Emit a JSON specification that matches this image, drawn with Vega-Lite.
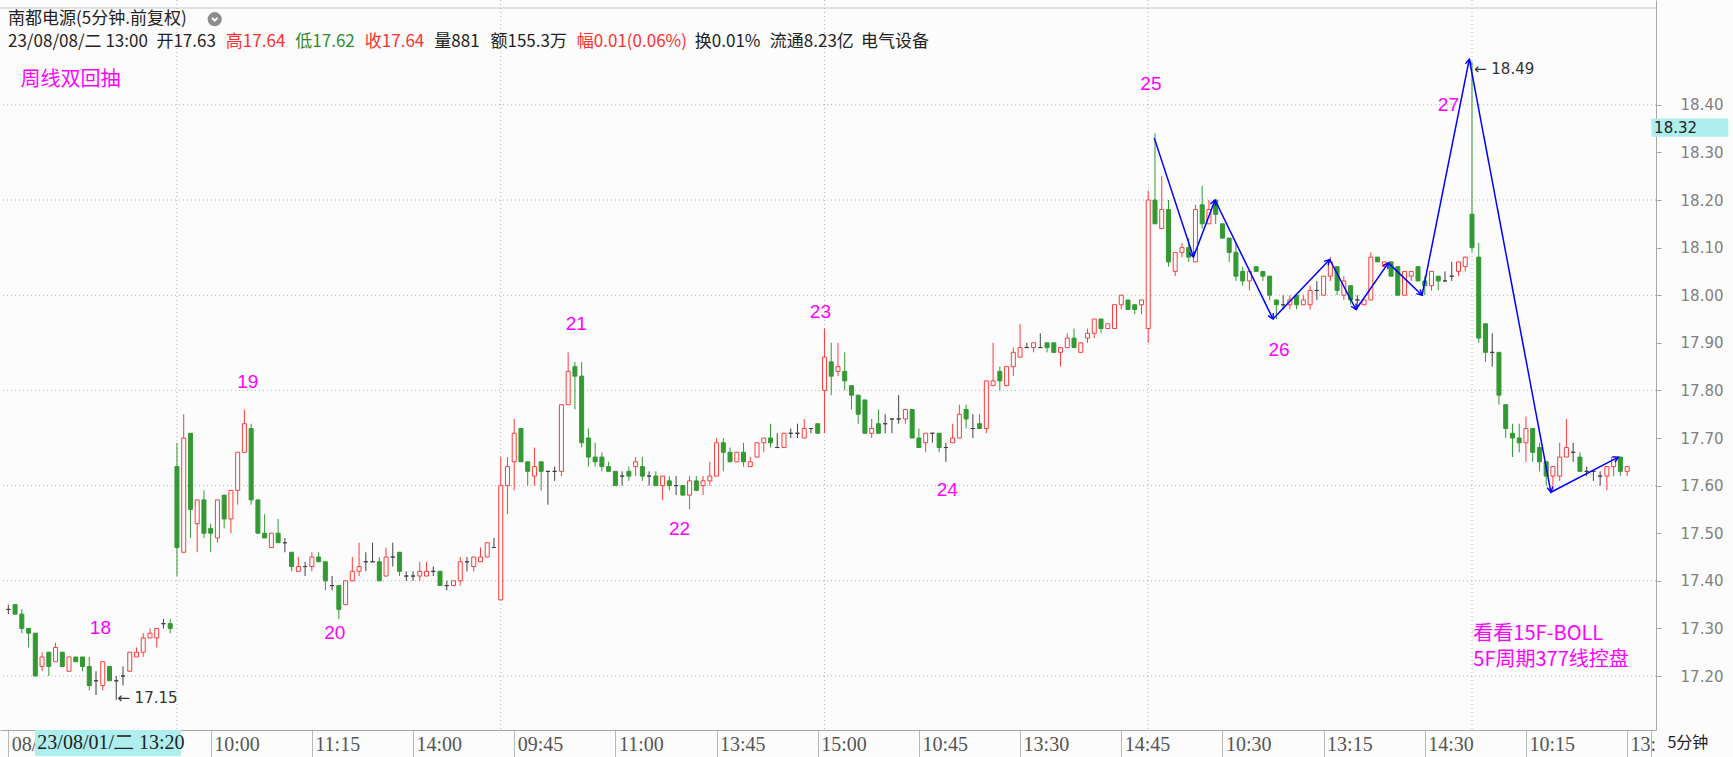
{
"$schema": "https://vega.github.io/schema/vega-lite/v6.json",
"width": 1656, "height": 730,
"autosize": "none",
"padding": {"left": 0, "top": 0, "right": 77, "bottom": 27},
"background": "#fcfcfc",
"config": {"view": {"stroke": null}},
"resolve": {"axis": {"x": "independent", "y": "independent"}},
"datasets": {
"k": [
{"i":0,"o":17.34,"h":17.35,"l":17.33,"c":17.34},
{"i":1,"o":17.35,"h":17.35,"l":17.33,"c":17.33},
{"i":2,"o":17.33,"h":17.34,"l":17.29,"c":17.30},
{"i":3,"o":17.30,"h":17.30,"l":17.26,"c":17.29},
{"i":4,"o":17.29,"h":17.29,"l":17.20,"c":17.20},
{"i":5,"o":17.22,"h":17.25,"l":17.21,"c":17.24},
{"i":6,"o":17.25,"h":17.25,"l":17.20,"c":17.22},
{"i":7,"o":17.23,"h":17.27,"l":17.23,"c":17.26},
{"i":8,"o":17.25,"h":17.25,"l":17.22,"c":17.22},
{"i":9,"o":17.21,"h":17.24,"l":17.21,"c":17.24},
{"i":10,"o":17.24,"h":17.24,"l":17.23,"c":17.23},
{"i":11,"o":17.24,"h":17.24,"l":17.21,"c":17.22},
{"i":12,"o":17.22,"h":17.24,"l":17.17,"c":17.18},
{"i":13,"o":17.19,"h":17.21,"l":17.16,"c":17.19},
{"i":14,"o":17.18,"h":17.23,"l":17.17,"c":17.23},
{"i":15,"o":17.22,"h":17.22,"l":17.19,"c":17.19},
{"i":16,"o":17.19,"h":17.20,"l":17.15,"c":17.19},
{"i":17,"o":17.20,"h":17.22,"l":17.18,"c":17.20},
{"i":18,"o":17.21,"h":17.25,"l":17.21,"c":17.25},
{"i":19,"o":17.24,"h":17.26,"l":17.24,"c":17.25},
{"i":20,"o":17.25,"h":17.29,"l":17.24,"c":17.28},
{"i":21,"o":17.28,"h":17.30,"l":17.28,"c":17.29},
{"i":22,"o":17.28,"h":17.30,"l":17.26,"c":17.30},
{"i":23,"o":17.31,"h":17.32,"l":17.30,"c":17.31},
{"i":24,"o":17.31,"h":17.32,"l":17.29,"c":17.30},
{"i":25,"o":17.64,"h":17.69,"l":17.41,"c":17.47},
{"i":26,"o":17.46,"h":17.75,"l":17.46,"c":17.70},
{"i":27,"o":17.71,"h":17.71,"l":17.49,"c":17.55},
{"i":28,"o":17.52,"h":17.57,"l":17.46,"c":17.57},
{"i":29,"o":17.57,"h":17.59,"l":17.49,"c":17.50},
{"i":30,"o":17.51,"h":17.52,"l":17.46,"c":17.50},
{"i":31,"o":17.49,"h":17.57,"l":17.48,"c":17.57},
{"i":32,"o":17.58,"h":17.58,"l":17.51,"c":17.53},
{"i":33,"o":17.53,"h":17.59,"l":17.50,"c":17.59},
{"i":34,"o":17.59,"h":17.67,"l":17.56,"c":17.67},
{"i":35,"o":17.67,"h":17.76,"l":17.67,"c":17.73},
{"i":36,"o":17.72,"h":17.73,"l":17.56,"c":17.57},
{"i":37,"o":17.57,"h":17.57,"l":17.50,"c":17.50},
{"i":38,"o":17.50,"h":17.54,"l":17.49,"c":17.49},
{"i":39,"o":17.47,"h":17.50,"l":17.47,"c":17.50},
{"i":40,"o":17.50,"h":17.53,"l":17.48,"c":17.48},
{"i":41,"o":17.48,"h":17.49,"l":17.46,"c":17.48},
{"i":42,"o":17.46,"h":17.46,"l":17.42,"c":17.43},
{"i":43,"o":17.42,"h":17.45,"l":17.42,"c":17.43},
{"i":44,"o":17.43,"h":17.44,"l":17.41,"c":17.43},
{"i":45,"o":17.43,"h":17.46,"l":17.42,"c":17.45},
{"i":46,"o":17.45,"h":17.46,"l":17.44,"c":17.44},
{"i":47,"o":17.44,"h":17.44,"l":17.38,"c":17.40},
{"i":48,"o":17.39,"h":17.41,"l":17.38,"c":17.39},
{"i":49,"o":17.39,"h":17.39,"l":17.32,"c":17.34},
{"i":50,"o":17.35,"h":17.40,"l":17.35,"c":17.40},
{"i":51,"o":17.40,"h":17.45,"l":17.40,"c":17.42},
{"i":52,"o":17.42,"h":17.48,"l":17.41,"c":17.43},
{"i":53,"o":17.44,"h":17.46,"l":17.42,"c":17.44},
{"i":54,"o":17.44,"h":17.48,"l":17.44,"c":17.44},
{"i":55,"o":17.44,"h":17.45,"l":17.40,"c":17.40},
{"i":56,"o":17.41,"h":17.47,"l":17.41,"c":17.45},
{"i":57,"o":17.45,"h":17.48,"l":17.43,"c":17.45},
{"i":58,"o":17.46,"h":17.46,"l":17.41,"c":17.42},
{"i":59,"o":17.41,"h":17.42,"l":17.40,"c":17.41},
{"i":60,"o":17.41,"h":17.42,"l":17.40,"c":17.41},
{"i":61,"o":17.41,"h":17.44,"l":17.40,"c":17.42},
{"i":62,"o":17.41,"h":17.44,"l":17.41,"c":17.42},
{"i":63,"o":17.42,"h":17.43,"l":17.41,"c":17.42},
{"i":64,"o":17.42,"h":17.42,"l":17.39,"c":17.39},
{"i":65,"o":17.39,"h":17.40,"l":17.38,"c":17.39},
{"i":66,"o":17.39,"h":17.40,"l":17.39,"c":17.40},
{"i":67,"o":17.40,"h":17.45,"l":17.39,"c":17.44},
{"i":68,"o":17.44,"h":17.45,"l":17.42,"c":17.44},
{"i":69,"o":17.43,"h":17.45,"l":17.42,"c":17.45},
{"i":70,"o":17.44,"h":17.47,"l":17.44,"c":17.45},
{"i":71,"o":17.45,"h":17.48,"l":17.45,"c":17.48},
{"i":72,"o":17.47,"h":17.49,"l":17.47,"c":17.47},
{"i":73,"o":17.36,"h":17.66,"l":17.36,"c":17.60},
{"i":74,"o":17.60,"h":17.66,"l":17.54,"c":17.64},
{"i":75,"o":17.65,"h":17.74,"l":17.59,"c":17.71},
{"i":76,"o":17.72,"h":17.72,"l":17.65,"c":17.65},
{"i":77,"o":17.65,"h":17.65,"l":17.60,"c":17.63},
{"i":78,"o":17.62,"h":17.68,"l":17.60,"c":17.64},
{"i":79,"o":17.65,"h":17.65,"l":17.59,"c":17.63},
{"i":80,"o":17.63,"h":17.63,"l":17.56,"c":17.63},
{"i":81,"o":17.63,"h":17.64,"l":17.61,"c":17.63},
{"i":82,"o":17.63,"h":17.77,"l":17.62,"c":17.77},
{"i":83,"o":17.77,"h":17.88,"l":17.77,"c":17.84},
{"i":84,"o":17.85,"h":17.86,"l":17.76,"c":17.83},
{"i":85,"o":17.83,"h":17.86,"l":17.68,"c":17.69},
{"i":86,"o":17.70,"h":17.72,"l":17.64,"c":17.66},
{"i":87,"o":17.66,"h":17.69,"l":17.64,"c":17.65},
{"i":88,"o":17.66,"h":17.67,"l":17.63,"c":17.64},
{"i":89,"o":17.64,"h":17.65,"l":17.63,"c":17.63},
{"i":90,"o":17.63,"h":17.63,"l":17.60,"c":17.60},
{"i":91,"o":17.62,"h":17.63,"l":17.60,"c":17.62},
{"i":92,"o":17.63,"h":17.64,"l":17.61,"c":17.62},
{"i":93,"o":17.64,"h":17.66,"l":17.62,"c":17.65},
{"i":94,"o":17.64,"h":17.66,"l":17.61,"c":17.62},
{"i":95,"o":17.62,"h":17.63,"l":17.60,"c":17.62},
{"i":96,"o":17.62,"h":17.63,"l":17.60,"c":17.60},
{"i":97,"o":17.60,"h":17.62,"l":17.57,"c":17.62},
{"i":98,"o":17.61,"h":17.62,"l":17.59,"c":17.60},
{"i":99,"o":17.60,"h":17.62,"l":17.58,"c":17.60},
{"i":100,"o":17.60,"h":17.60,"l":17.58,"c":17.58},
{"i":101,"o":17.58,"h":17.62,"l":17.55,"c":17.61},
{"i":102,"o":17.61,"h":17.62,"l":17.59,"c":17.59},
{"i":103,"o":17.60,"h":17.62,"l":17.58,"c":17.61},
{"i":104,"o":17.61,"h":17.65,"l":17.60,"c":17.62},
{"i":105,"o":17.62,"h":17.70,"l":17.62,"c":17.69},
{"i":106,"o":17.69,"h":17.70,"l":17.63,"c":17.67},
{"i":107,"o":17.67,"h":17.68,"l":17.65,"c":17.65},
{"i":108,"o":17.65,"h":17.67,"l":17.65,"c":17.67},
{"i":109,"o":17.67,"h":17.69,"l":17.64,"c":17.65},
{"i":110,"o":17.64,"h":17.66,"l":17.64,"c":17.65},
{"i":111,"o":17.66,"h":17.69,"l":17.66,"c":17.69},
{"i":112,"o":17.69,"h":17.70,"l":17.67,"c":17.70},
{"i":113,"o":17.70,"h":17.73,"l":17.68,"c":17.69},
{"i":114,"o":17.68,"h":17.71,"l":17.68,"c":17.68},
{"i":115,"o":17.68,"h":17.71,"l":17.68,"c":17.71},
{"i":116,"o":17.71,"h":17.72,"l":17.70,"c":17.71},
{"i":117,"o":17.71,"h":17.73,"l":17.70,"c":17.71},
{"i":118,"o":17.70,"h":17.74,"l":17.70,"c":17.72},
{"i":119,"o":17.72,"h":17.72,"l":17.71,"c":17.72},
{"i":120,"o":17.73,"h":17.73,"l":17.71,"c":17.71},
{"i":121,"o":17.80,"h":17.93,"l":17.71,"c":17.87},
{"i":122,"o":17.86,"h":17.90,"l":17.79,"c":17.83},
{"i":123,"o":17.84,"h":17.90,"l":17.83,"c":17.85},
{"i":124,"o":17.84,"h":17.88,"l":17.80,"c":17.82},
{"i":125,"o":17.81,"h":17.81,"l":17.76,"c":17.79},
{"i":126,"o":17.79,"h":17.79,"l":17.73,"c":17.75},
{"i":127,"o":17.78,"h":17.78,"l":17.71,"c":17.71},
{"i":128,"o":17.71,"h":17.74,"l":17.70,"c":17.72},
{"i":129,"o":17.73,"h":17.76,"l":17.71,"c":17.71},
{"i":130,"o":17.73,"h":17.75,"l":17.71,"c":17.73},
{"i":131,"o":17.74,"h":17.74,"l":17.71,"c":17.74},
{"i":132,"o":17.74,"h":17.79,"l":17.73,"c":17.74},
{"i":133,"o":17.74,"h":17.76,"l":17.73,"c":17.76},
{"i":134,"o":17.76,"h":17.76,"l":17.70,"c":17.70},
{"i":135,"o":17.70,"h":17.72,"l":17.68,"c":17.68},
{"i":136,"o":17.69,"h":17.71,"l":17.67,"c":17.71},
{"i":137,"o":17.71,"h":17.71,"l":17.69,"c":17.71},
{"i":138,"o":17.71,"h":17.71,"l":17.67,"c":17.68},
{"i":139,"o":17.68,"h":17.69,"l":17.65,"c":17.68},
{"i":140,"o":17.69,"h":17.73,"l":17.69,"c":17.70},
{"i":141,"o":17.70,"h":17.77,"l":17.70,"c":17.75},
{"i":142,"o":17.76,"h":17.77,"l":17.72,"c":17.74},
{"i":143,"o":17.72,"h":17.75,"l":17.70,"c":17.72},
{"i":144,"o":17.73,"h":17.75,"l":17.72,"c":17.72},
{"i":145,"o":17.72,"h":17.82,"l":17.71,"c":17.82},
{"i":146,"o":17.81,"h":17.90,"l":17.81,"c":17.82},
{"i":147,"o":17.84,"h":17.85,"l":17.80,"c":17.82},
{"i":148,"o":17.81,"h":17.85,"l":17.81,"c":17.85},
{"i":149,"o":17.85,"h":17.89,"l":17.83,"c":17.88},
{"i":150,"o":17.87,"h":17.94,"l":17.87,"c":17.89},
{"i":151,"o":17.89,"h":17.90,"l":17.89,"c":17.89},
{"i":152,"o":17.89,"h":17.90,"l":17.88,"c":17.90},
{"i":153,"o":17.89,"h":17.92,"l":17.89,"c":17.89},
{"i":154,"o":17.90,"h":17.90,"l":17.88,"c":17.89},
{"i":155,"o":17.90,"h":17.90,"l":17.88,"c":17.88},
{"i":156,"o":17.88,"h":17.89,"l":17.85,"c":17.89},
{"i":157,"o":17.89,"h":17.92,"l":17.89,"c":17.91},
{"i":158,"o":17.91,"h":17.93,"l":17.89,"c":17.89},
{"i":159,"o":17.88,"h":17.90,"l":17.88,"c":17.90},
{"i":160,"o":17.91,"h":17.93,"l":17.90,"c":17.92},
{"i":161,"o":17.92,"h":17.95,"l":17.91,"c":17.95},
{"i":162,"o":17.95,"h":17.95,"l":17.92,"c":17.93},
{"i":163,"o":17.93,"h":17.94,"l":17.93,"c":17.94},
{"i":164,"o":17.93,"h":17.98,"l":17.93,"c":17.98},
{"i":165,"o":17.98,"h":18.00,"l":17.97,"c":18.00},
{"i":166,"o":17.99,"h":17.99,"l":17.97,"c":17.97},
{"i":167,"o":17.98,"h":17.98,"l":17.96,"c":17.97},
{"i":168,"o":17.98,"h":17.99,"l":17.96,"c":17.99},
{"i":169,"o":17.93,"h":18.22,"l":17.90,"c":18.20},
{"i":170,"o":18.20,"h":18.34,"l":18.15,"c":18.15},
{"i":171,"o":18.14,"h":18.25,"l":18.14,"c":18.18},
{"i":172,"o":18.18,"h":18.20,"l":18.06,"c":18.07},
{"i":173,"o":18.05,"h":18.09,"l":18.04,"c":18.09},
{"i":174,"o":18.09,"h":18.11,"l":18.08,"c":18.10},
{"i":175,"o":18.10,"h":18.12,"l":18.07,"c":18.08},
{"i":176,"o":18.07,"h":18.19,"l":18.07,"c":18.18},
{"i":177,"o":18.19,"h":18.23,"l":18.14,"c":18.15},
{"i":178,"o":18.15,"h":18.20,"l":18.15,"c":18.18},
{"i":179,"o":18.20,"h":18.20,"l":18.15,"c":18.17},
{"i":180,"o":18.15,"h":18.15,"l":18.12,"c":18.12},
{"i":181,"o":18.12,"h":18.12,"l":18.07,"c":18.09},
{"i":182,"o":18.09,"h":18.11,"l":18.03,"c":18.04},
{"i":183,"o":18.05,"h":18.06,"l":18.02,"c":18.03},
{"i":184,"o":18.03,"h":18.05,"l":18.01,"c":18.05},
{"i":185,"o":18.06,"h":18.06,"l":18.05,"c":18.05},
{"i":186,"o":18.05,"h":18.05,"l":18.03,"c":18.04},
{"i":187,"o":18.04,"h":18.04,"l":17.99,"c":18.00},
{"i":188,"o":17.99,"h":17.99,"l":17.95,"c":17.98},
{"i":189,"o":17.98,"h":18.00,"l":17.97,"c":17.98},
{"i":190,"o":17.98,"h":18.00,"l":17.97,"c":17.99},
{"i":191,"o":18.00,"h":18.00,"l":17.97,"c":17.98},
{"i":192,"o":17.98,"h":18.00,"l":17.98,"c":17.99},
{"i":193,"o":17.98,"h":18.02,"l":17.97,"c":18.01},
{"i":194,"o":18.01,"h":18.03,"l":17.99,"c":18.01},
{"i":195,"o":18.00,"h":18.04,"l":18.00,"c":18.04},
{"i":196,"o":18.04,"h":18.08,"l":18.03,"c":18.07},
{"i":197,"o":18.06,"h":18.06,"l":18.00,"c":18.01},
{"i":198,"o":18.00,"h":18.04,"l":17.99,"c":18.03},
{"i":199,"o":18.02,"h":18.02,"l":17.98,"c":17.99},
{"i":200,"o":17.99,"h":18.00,"l":17.97,"c":17.99},
{"i":201,"o":17.98,"h":17.99,"l":17.98,"c":17.99},
{"i":202,"o":17.99,"h":18.09,"l":17.99,"c":18.08},
{"i":203,"o":18.08,"h":18.08,"l":18.07,"c":18.07},
{"i":204,"o":18.06,"h":18.07,"l":18.06,"c":18.07},
{"i":205,"o":18.07,"h":18.07,"l":18.04,"c":18.04},
{"i":206,"o":18.06,"h":18.06,"l":18.00,"c":18.00},
{"i":207,"o":18.00,"h":18.05,"l":18.00,"c":18.05},
{"i":208,"o":18.04,"h":18.05,"l":18.03,"c":18.05},
{"i":209,"o":18.06,"h":18.06,"l":18.03,"c":18.03},
{"i":210,"o":18.03,"h":18.04,"l":18.00,"c":18.02},
{"i":211,"o":18.02,"h":18.05,"l":18.01,"c":18.05},
{"i":212,"o":18.04,"h":18.04,"l":18.01,"c":18.03},
{"i":213,"o":18.03,"h":18.05,"l":18.03,"c":18.03},
{"i":214,"o":18.04,"h":18.07,"l":18.03,"c":18.04},
{"i":215,"o":18.05,"h":18.07,"l":18.04,"c":18.07},
{"i":216,"o":18.06,"h":18.08,"l":18.05,"c":18.08},
{"i":217,"o":18.17,"h":18.49,"l":18.09,"c":18.10},
{"i":218,"o":18.08,"h":18.11,"l":17.90,"c":17.91},
{"i":219,"o":17.94,"h":17.94,"l":17.86,"c":17.88},
{"i":220,"o":17.88,"h":17.92,"l":17.85,"c":17.88},
{"i":221,"o":17.88,"h":17.88,"l":17.77,"c":17.79},
{"i":222,"o":17.77,"h":17.77,"l":17.70,"c":17.72},
{"i":223,"o":17.71,"h":17.73,"l":17.66,"c":17.70},
{"i":224,"o":17.70,"h":17.73,"l":17.67,"c":17.69},
{"i":225,"o":17.69,"h":17.745,"l":17.65,"c":17.72},
{"i":226,"o":17.72,"h":17.72,"l":17.65,"c":17.67},
{"i":227,"o":17.68,"h":17.69,"l":17.63,"c":17.65},
{"i":228,"o":17.65,"h":17.65,"l":17.60,"c":17.62},
{"i":229,"o":17.62,"h":17.64,"l":17.59,"c":17.64},
{"i":230,"o":17.62,"h":17.69,"l":17.61,"c":17.66},
{"i":231,"o":17.66,"h":17.74,"l":17.66,"c":17.68},
{"i":232,"o":17.67,"h":17.69,"l":17.65,"c":17.67},
{"i":233,"o":17.66,"h":17.67,"l":17.63,"c":17.63},
{"i":234,"o":17.63,"h":17.64,"l":17.62,"c":17.63},
{"i":235,"o":17.63,"h":17.63,"l":17.61,"c":17.63},
{"i":236,"o":17.62,"h":17.63,"l":17.60,"c":17.62},
{"i":237,"o":17.62,"h":17.64,"l":17.59,"c":17.64},
{"i":238,"o":17.64,"h":17.66,"l":17.62,"c":17.66},
{"i":239,"o":17.66,"h":17.66,"l":17.62,"c":17.63},
{"i":240,"o":17.63,"h":17.64,"l":17.62,"c":17.64}
],
"hg": [{"p":18.4},{"p":18.2},{"p":18.0},{"p":17.8},{"p":17.6},{"p":17.4},{"p":17.2}],
"vg": [{"i":25},{"i":73},{"i":121},{"i":169},{"i":217}],
"zz": [
{"i":169.9,"p":18.33,"i2":175.7,"p2":18.08},
{"i":175.7,"p":18.08,"i2":178.9,"p2":18.20},
{"i":178.9,"p":18.20,"i2":187.5,"p2":17.95},
{"i":187.5,"p":17.95,"i2":195.9,"p2":18.075},
{"i":195.9,"p":18.075,"i2":199.8,"p2":17.97},
{"i":199.8,"p":17.97,"i2":204.6,"p2":18.068},
{"i":204.6,"p":18.068,"i2":209.6,"p2":18.00},
{"i":209.6,"p":18.00,"i2":216.6,"p2":18.496},
{"i":216.6,"p":18.496,"i2":228.7,"p2":17.586},
{"i":228.7,"p":17.586,"i2":238.7,"p2":17.66}
],
"ml": [
{"i":13.65,"p":17.30,"t":"18"},
{"i":35.5,"p":17.818,"t":"19"},
{"i":48.4,"p":17.29,"t":"20"},
{"i":84.2,"p":17.94,"t":"21"},
{"i":99.5,"p":17.508,"t":"22"},
{"i":120.4,"p":17.965,"t":"23"},
{"i":139.2,"p":17.59,"t":"24"},
{"i":169.4,"p":18.444,"t":"25"},
{"i":188.4,"p":17.885,"t":"26"},
{"i":213.5,"p":18.40,"t":"27"}
]
},
"layer": [
{"data": {"name": "hg"}, "mark": {"type": "rule", "color": "#b4b4b4", "strokeDash": [1, 3], "strokeWidth": 1},
 "encoding": {"y": {"field": "p", "type": "quantitative", "scale": {"domain": [17.0866, 18.6202], "nice": false, "zero": false}, "axis": null}}},
{"data": {"values": [{"p": 18.6034}]}, "mark": {"type": "rule", "color": "#c8c8c8", "strokeWidth": 1},
 "encoding": {"y": {"field": "p", "type": "quantitative", "scale": {"domain": [17.0866, 18.6202], "nice": false, "zero": false}, "axis": null}}},
{"data": {"name": "vg"}, "mark": {"type": "rule", "color": "#b4b4b4", "strokeDash": [1, 3], "strokeWidth": 1},
 "encoding": {"x": {"field": "i", "type": "quantitative", "scale": {"domain": [-0.494, 243.54], "nice": false, "zero": false}, "axis": null}}},
{"data": {"name": "k"}, "mark": {"type": "rule", "strokeWidth": 1},
 "encoding": {
  "x": {"field": "i", "type": "quantitative", "scale": {"domain": [-0.494, 243.54], "nice": false, "zero": false},
        "axis": {"title": null, "values": [0, 30, 45, 60, 75, 90, 105, 120, 135, 150, 165, 180, 195, 210, 225, 240, 243.54],
                 "labelExpr": "datum.value==0?'08/':datum.value==30?'10:00':datum.value==45?'11:15':datum.value==60?'14:00':datum.value==75?'09:45':datum.value==90?'11:00':datum.value==105?'13:45':datum.value==120?'15:00':datum.value==135?'10:45':datum.value==150?'13:30':datum.value==165?'14:45':datum.value==180?'10:30':datum.value==195?'13:15':datum.value==210?'14:30':datum.value==225?'10:15':datum.value==240?'13:':''",
                 "grid": false, "domainColor": "#a8a8a8", "tickColor": "#b8b8b8", "tickSize": 27,
                 "labelAlign": "left", "labelBaseline": "middle", "labelPadding": -13, "labelOffset": 3,
                 "labelFont": "Liberation Sans Narrow", "labelFontSize": 20, "labelColor": "#555555",
                 "labelOverlap": false, "labelBound": false, "labelFlush": false}},
  "y": {"field": "l", "type": "quantitative", "scale": {"domain": [17.0866, 18.6202], "nice": false, "zero": false},
        "axis": {"title": null, "orient": "right", "values": [17.2, 17.3, 17.4, 17.5, 17.6, 17.7, 17.8, 17.9, 18.0, 18.1, 18.2, 18.3, 18.4],
                 "format": ".2f", "grid": false, "domainColor": "#a8a8a8", "tickColor": "#a8a8a8", "tickSize": 5,
                 "labelAlign": "right", "labelBaseline": "middle", "labelPadding": 62, "labelFont": "DejaVu Sans", "labelFontSize": 15,
                 "labelColor": "#808080", "labelOverlap": false, "labelBound": false}},
  "y2": {"field": "h"},
  "stroke": {"condition": [{"test": "datum.c > datum.o", "value": "#ff3c3c"}, {"test": "datum.c < datum.o", "value": "#339933"}], "value": "#404040"}
 }},
{"data": {"name": "k"}, "mark": {"type": "bar", "width": 4, "strokeWidth": 1},
 "encoding": {
  "x": {"field": "i", "type": "quantitative", "scale": {"domain": [-0.494, 243.54], "nice": false, "zero": false}, "axis": null},
  "y": {"field": "o", "type": "quantitative", "scale": {"domain": [17.0866, 18.6202], "nice": false, "zero": false}, "axis": null},
  "y2": {"field": "c"},
  "stroke": {"condition": [{"test": "datum.c > datum.o", "value": "#ff3c3c"}, {"test": "datum.c < datum.o", "value": "#339933"}], "value": "#404040"},
  "fill": {"condition": [{"test": "datum.c < datum.o", "value": "#339933"}], "value": "#fcfcfc"}
 }},
{"data": {"name": "zz"}, "mark": {"type": "rule", "color": "#0000ff", "strokeWidth": 1.5},
 "encoding": {
  "x": {"field": "i", "type": "quantitative", "scale": {"domain": [-0.494, 243.54], "nice": false, "zero": false}, "axis": null},
  "x2": {"field": "i2"},
  "y": {"field": "p", "type": "quantitative", "scale": {"domain": [17.0866, 18.6202], "nice": false, "zero": false}, "axis": null},
  "y2": {"field": "p2"}
 }},
{"data": {"name": "zz"},
 "transform": [{"calculate": "atan2((datum.i2-datum.i)*6.786,(datum.p2-datum.p)*476)*180/PI", "as": "ang"}],
 "mark": {"type": "point", "shape": "M -0.55 1 L 0 0 L 0.55 1", "filled": false, "stroke": "#0000ff", "strokeWidth": 1.4, "size": 110, "opacity": 1},
 "encoding": {
  "x": {"field": "i2", "type": "quantitative", "scale": {"domain": [-0.494, 243.54], "nice": false, "zero": false}, "axis": null},
  "y": {"field": "p2", "type": "quantitative", "scale": {"domain": [17.0866, 18.6202], "nice": false, "zero": false}, "axis": null},
  "angle": {"field": "ang", "type": "quantitative", "scale": null}
 }},
{"data": {"name": "ml"}, "mark": {"type": "text", "color": "#ff00ff", "font": "Liberation Sans", "fontSize": 19, "align": "center", "baseline": "middle"},
 "encoding": {
  "x": {"field": "i", "type": "quantitative", "scale": {"domain": [-0.494, 243.54], "nice": false, "zero": false}, "axis": null},
  "y": {"field": "p", "type": "quantitative", "scale": {"domain": [17.0866, 18.6202], "nice": false, "zero": false}, "axis": null},
  "text": {"field": "t"}
 }},
{"data": {"values": [{"i": 1.79, "p": 18.452, "t": "周线双回抽"}, {"i": 217.2, "p": 17.2885, "t": "看看15F-BOLL"}, {"i": 217.2, "p": 17.2345, "t": "5F周期377线控盘"}]},
 "mark": {"type": "text", "color": "#ff00ff", "font": "Noto Sans CJK SC", "fontSize": 20, "align": "left", "baseline": "middle"},
 "encoding": {
  "x": {"field": "i", "type": "quantitative", "scale": {"domain": [-0.494, 243.54], "nice": false, "zero": false}, "axis": null},
  "y": {"field": "p", "type": "quantitative", "scale": {"domain": [17.0866, 18.6202], "nice": false, "zero": false}, "axis": null},
  "text": {"field": "t"}
 }},
{"data": {"values": [{"i": 16, "p": 17.153, "t": "← 17.15"}]},
 "mark": {"type": "text", "color": "#333333", "font": "DejaVu Sans", "fontSize": 15, "align": "left", "baseline": "middle", "dx": 1},
 "encoding": {
  "x": {"field": "i", "type": "quantitative", "scale": {"domain": [-0.494, 243.54], "nice": false, "zero": false}, "axis": null},
  "y": {"field": "p", "type": "quantitative", "scale": {"domain": [17.0866, 18.6202], "nice": false, "zero": false}, "axis": null},
  "text": {"field": "t"}
 }},
{"data": {"values": [{"i": 217, "p": 18.49, "t": "← 18.49"}]},
 "mark": {"type": "text", "color": "#333333", "font": "DejaVu Sans", "fontSize": 15, "align": "left", "baseline": "middle", "dx": 2, "dy": 7},
 "encoding": {
  "x": {"field": "i", "type": "quantitative", "scale": {"domain": [-0.494, 243.54], "nice": false, "zero": false}, "axis": null},
  "y": {"field": "p", "type": "quantitative", "scale": {"domain": [17.0866, 18.6202], "nice": false, "zero": false}, "axis": null},
  "text": {"field": "t"}
 }},
{"data": {"values": [{"i": -0.05, "p": 18.580, "t": "南都电源(5分钟.前复权)"}, {"i": -0.05, "p": 18.532, "t": "23/08/08/二 13:00"}, {"i": 21.95, "p": 18.532, "t": "开17.63"}, {"i": 63.15, "p": 18.532, "t": "量881"}, {"i": 71.48, "p": 18.532, "t": "额155.3万"}, {"i": 101.78, "p": 18.532, "t": "换0.01%"}, {"i": 112.9, "p": 18.532, "t": "流通8.23亿"}, {"i": 126.4, "p": 18.532, "t": "电气设备"}]},
 "mark": {"type": "text", "color": "#222222", "font": "Noto Sans CJK SC", "fontSize": 17, "align": "left", "baseline": "middle"},
 "encoding": {
  "x": {"field": "i", "type": "quantitative", "scale": {"domain": [-0.494, 243.54], "nice": false, "zero": false}, "axis": null},
  "y": {"field": "p", "type": "quantitative", "scale": {"domain": [17.0866, 18.6202], "nice": false, "zero": false}, "axis": null},
  "text": {"field": "t"}
 }},
{"data": {"values": [{"i": 32.25, "p": 18.532, "t": "高17.64"}, {"i": 52.85, "p": 18.532, "t": "收17.64"}, {"i": 84.28, "p": 18.532, "t": "幅0.01(0.06%)"}]},
 "mark": {"type": "text", "color": "#ff3030", "font": "Noto Sans CJK SC", "fontSize": 17, "align": "left", "baseline": "middle"},
 "encoding": {
  "x": {"field": "i", "type": "quantitative", "scale": {"domain": [-0.494, 243.54], "nice": false, "zero": false}, "axis": null},
  "y": {"field": "p", "type": "quantitative", "scale": {"domain": [17.0866, 18.6202], "nice": false, "zero": false}, "axis": null},
  "text": {"field": "t"}
 }},
{"data": {"values": [{"i": 42.55, "p": 18.532, "t": "低17.62"}]},
 "mark": {"type": "text", "color": "#2e8b2e", "font": "Noto Sans CJK SC", "fontSize": 17, "align": "left", "baseline": "middle"},
 "encoding": {
  "x": {"field": "i", "type": "quantitative", "scale": {"domain": [-0.494, 243.54], "nice": false, "zero": false}, "axis": null},
  "y": {"field": "p", "type": "quantitative", "scale": {"domain": [17.0866, 18.6202], "nice": false, "zero": false}, "axis": null},
  "text": {"field": "t"}
 }},
{"data": {"values": [{"i": 30.6, "p": 18.580}]},
 "mark": {"type": "point", "shape": "circle", "filled": true, "color": "#8c8c8c", "size": 200, "opacity": 1},
 "encoding": {
  "x": {"field": "i", "type": "quantitative", "scale": {"domain": [-0.494, 243.54], "nice": false, "zero": false}, "axis": null},
  "y": {"field": "p", "type": "quantitative", "scale": {"domain": [17.0866, 18.6202], "nice": false, "zero": false}, "axis": null}
 }},
{"data": {"values": [{"i": 30.6, "p": 18.580}]},
 "mark": {"type": "point", "shape": "M -0.55 -0.25 L 0 0.3 L 0.55 -0.25", "filled": false, "stroke": "#ffffff", "strokeWidth": 2, "size": 100, "opacity": 1},
 "encoding": {
  "x": {"field": "i", "type": "quantitative", "scale": {"domain": [-0.494, 243.54], "nice": false, "zero": false}, "axis": null},
  "y": {"field": "p", "type": "quantitative", "scale": {"domain": [17.0866, 18.6202], "nice": false, "zero": false}, "axis": null}
 }},
{"data": {"values": [{"i": 3.95, "i2": 25.6, "p": 17.0866, "p2": 17.032}]},
 "mark": {"type": "rect", "color": "#aeeeee"},
 "encoding": {
  "x": {"field": "i", "type": "quantitative", "scale": {"domain": [-0.494, 243.54], "nice": false, "zero": false}, "axis": null},
  "x2": {"field": "i2"},
  "y": {"field": "p", "type": "quantitative", "scale": {"domain": [17.0866, 18.6202], "nice": false, "zero": false}, "axis": null},
  "y2": {"field": "p2"}
 }},
{"data": {"values": [{"i": 243.6, "i2": 255, "p": 18.371, "p2": 18.333}]},
 "mark": {"type": "rect", "color": "#aeeeee"},
 "encoding": {
  "x": {"field": "i", "type": "quantitative", "scale": {"domain": [-0.494, 243.54], "nice": false, "zero": false}, "axis": null},
  "x2": {"field": "i2"},
  "y": {"field": "p", "type": "quantitative", "scale": {"domain": [17.0866, 18.6202], "nice": false, "zero": false}, "axis": null},
  "y2": {"field": "p2"}
 }},
{"data": {"values": [{"i": 4.3, "p": 17.0585, "t": "23/08/01/二 13:20"}]},
 "mark": {"type": "text", "color": "#222222", "font": "Liberation Sans Narrow", "fontSize": 20, "align": "left", "baseline": "middle"},
 "encoding": {
  "x": {"field": "i", "type": "quantitative", "scale": {"domain": [-0.494, 243.54], "nice": false, "zero": false}, "axis": null},
  "y": {"field": "p", "type": "quantitative", "scale": {"domain": [17.0866, 18.6202], "nice": false, "zero": false}, "axis": null},
  "text": {"field": "t"}
 }},
{"data": {"values": [{"i": 244.0, "p": 18.352, "t": "18.32"}]},
 "mark": {"type": "text", "color": "#222222", "font": "DejaVu Sans", "fontSize": 15, "align": "left", "baseline": "middle"},
 "encoding": {
  "x": {"field": "i", "type": "quantitative", "scale": {"domain": [-0.494, 243.54], "nice": false, "zero": false}, "axis": null},
  "y": {"field": "p", "type": "quantitative", "scale": {"domain": [17.0866, 18.6202], "nice": false, "zero": false}, "axis": null},
  "text": {"field": "t"}
 }},
{"data": {"values": [{"i": 249.0, "p": 17.0585, "t": "5分钟"}]},
 "mark": {"type": "text", "color": "#222222", "font": "Noto Sans CJK SC", "fontSize": 16, "align": "center", "baseline": "middle"},
 "encoding": {
  "x": {"field": "i", "type": "quantitative", "scale": {"domain": [-0.494, 243.54], "nice": false, "zero": false}, "axis": null},
  "y": {"field": "p", "type": "quantitative", "scale": {"domain": [17.0866, 18.6202], "nice": false, "zero": false}, "axis": null},
  "text": {"field": "t"}
 }}
]
}
